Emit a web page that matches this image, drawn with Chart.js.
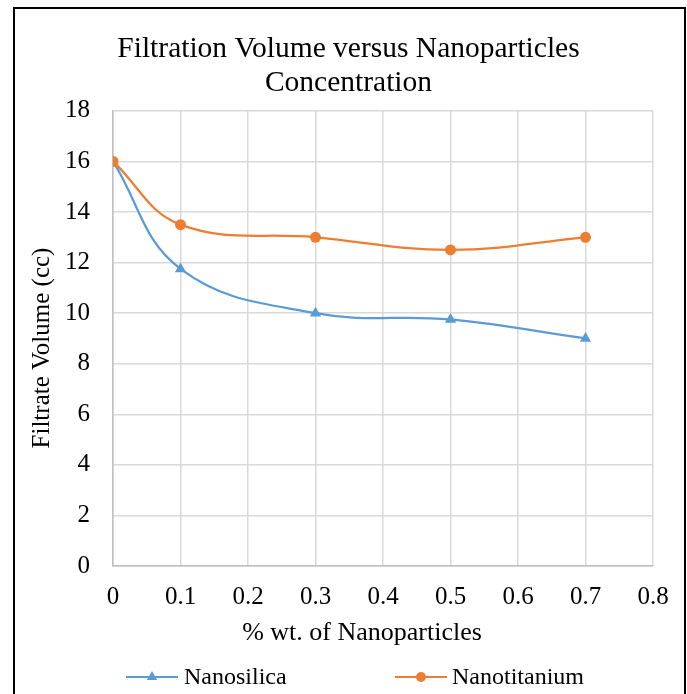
<!DOCTYPE html>
<html>
<head>
<meta charset="utf-8">
<script src="https://cdn.jsdelivr.net/npm/chart.js@4"></script>
<style>
  html, body { margin: 0; padding: 0; background: #fff; overflow: hidden; }
  #wrap { position: relative; width: 687px; height: 694px; }
  #frame { position: absolute; left: 13px; top: 7px; width: 669px; height: 700px; border: 2px solid #000; }
  canvas { position: absolute; left: 0; top: 0; }
</style>
</head>
<body>
<div id="wrap">
  <canvas id="filtrationChart" width="687" height="694"></canvas>
  <div id="frame"></div>
</div>
<script>
// values
const concentration = [0, 0.1, 0.3, 0.5, 0.7];
const nanosilica = [16, 11.75, 10, 9.75, 9];
const nanotitanium = [16, 13.5, 13, 12.5, 13];
const seriesNames = ["Nanosilica", "Nanotitanium"];
const yTicks = [0, 2, 4, 6, 8, 10, 12, 14, 16, 18];
const xTicks = [0, 0.1, 0.2, 0.3, 0.4, 0.5, 0.6, 0.7, 0.8];
const xTitle = "% wt. of Nanoparticles";
const yTitle = "Filtrate Volume (cc)";

const serif = "'Liberation Serif', 'Times New Roman', serif";
const blue = "#5b9bd5";
const orange = "#ed7d31";

function toPoints(values) {
  return concentration.map((x, i) => ({ x: x, y: values[i] }));
}

// Excel places the axis titles and legend on its own, so draw them here
const excelExtras = {
  id: "excelExtras",
  afterDraw(chart) {
    const ctx = chart.ctx;
    ctx.save();
    ctx.fillStyle = "#000";
    ctx.textAlign = "center";
    ctx.textBaseline = "middle";

    ctx.font = "26px " + serif;
    ctx.fillText(xTitle, 362, 633);

    ctx.font = "25px " + serif;
    ctx.save();
    ctx.translate(42, 348);
    ctx.rotate(-Math.PI / 2);
    ctx.fillText(yTitle, 0, 0);
    ctx.restore();

    // legend: short line with the marker in the middle
    const items = [
      { text: seriesNames[0], color: blue, marker: "triangle", x1: 126, x2: 178, tx: 184 },
      { text: seriesNames[1], color: orange, marker: "circle", x1: 395, x2: 447, tx: 452 },
    ];
    const y = 677;
    items.forEach((it) => {
      ctx.strokeStyle = it.color;
      ctx.lineWidth = 2;
      ctx.beginPath();
      ctx.moveTo(it.x1, y);
      ctx.lineTo(it.x2, y);
      ctx.stroke();
      const cx = (it.x1 + it.x2) / 2;
      ctx.fillStyle = it.color;
      ctx.beginPath();
      if (it.marker === "circle") {
        ctx.arc(cx, y, 5, 0, Math.PI * 2);
      } else {
        const r = 6;
        ctx.moveTo(cx, y - r);
        ctx.lineTo(cx + r * 0.866, y + r * 0.5);
        ctx.lineTo(cx - r * 0.866, y + r * 0.5);
        ctx.closePath();
      }
      ctx.fill();
      ctx.fillStyle = "#000";
      ctx.font = "24px " + serif;
      ctx.textAlign = "left";
      ctx.fillText(it.text, it.tx, y + 1);
    });
    ctx.restore();
  },
};

let ctx = document.getElementById("filtrationChart").getContext("2d");
let filtrationChart = new Chart(ctx, {
  type: "line",
  data: {
    datasets: [
      {
        label: seriesNames[0],
        data: toPoints(nanosilica),
        borderColor: blue,
        backgroundColor: blue,
        borderWidth: 2.25,
        pointStyle: "triangle",
        pointRadius: 6.5,
        pointBorderWidth: 0,
        tension: 0.4,
        order: 1,
      },
      {
        label: seriesNames[1],
        data: toPoints(nanotitanium),
        borderColor: orange,
        backgroundColor: orange,
        borderWidth: 2.25,
        pointStyle: "circle",
        pointRadius: 5.5,
        pointBorderWidth: 0,
        tension: 0.4,
        order: 0,
      },
    ],
  },
  options: {
    responsive: false,
    animation: false,
    events: [],
    layout: { padding: { left: 44, right: 34, top: 10, bottom: 44 } },
    plugins: {
      legend: { display: false },
      tooltip: { enabled: false },
      title: {
        display: true,
        text: ["Filtration Volume versus Nanoparticles", "Concentration"],
        color: "#000",
        font: { family: serif, size: 29.5, weight: "normal", lineHeight: 1.15 },
        padding: { top: 22, bottom: 11 },
      },
    },
    scales: {
      x: {
        type: "linear",
        min: xTicks[0],
        max: xTicks[xTicks.length - 1],
        afterFit(scale) { scale.height = 84; },
        afterBuildTicks(scale) { scale.ticks = xTicks.map((v) => ({ value: v })); },
        ticks: {
          color: "#000",
          padding: 16,
          font: { family: serif, size: 25 },
          maxRotation: 0,
          callback: (v) => String(Math.round(v * 10) / 10),
        },
        grid: { color: "#d9d9d9", lineWidth: 1.5, drawTicks: false },
        border: { color: "#bfbfbf", width: 1.5 },
      },
      y: {
        min: yTicks[0],
        max: yTicks[yTicks.length - 1],
        afterFit(scale) { scale.width = 69; },
        afterBuildTicks(scale) { scale.ticks = yTicks.map((v) => ({ value: v })); },
        ticks: {
          color: "#000",
          padding: 23,
          font: { family: serif, size: 25 },
        },
        grid: { color: "#d9d9d9", lineWidth: 1.5, drawTicks: false },
        border: { color: "#bfbfbf", width: 1.5 },
      },
    },
  },
  plugins: [excelExtras],
});
</script>
</body>
</html>
